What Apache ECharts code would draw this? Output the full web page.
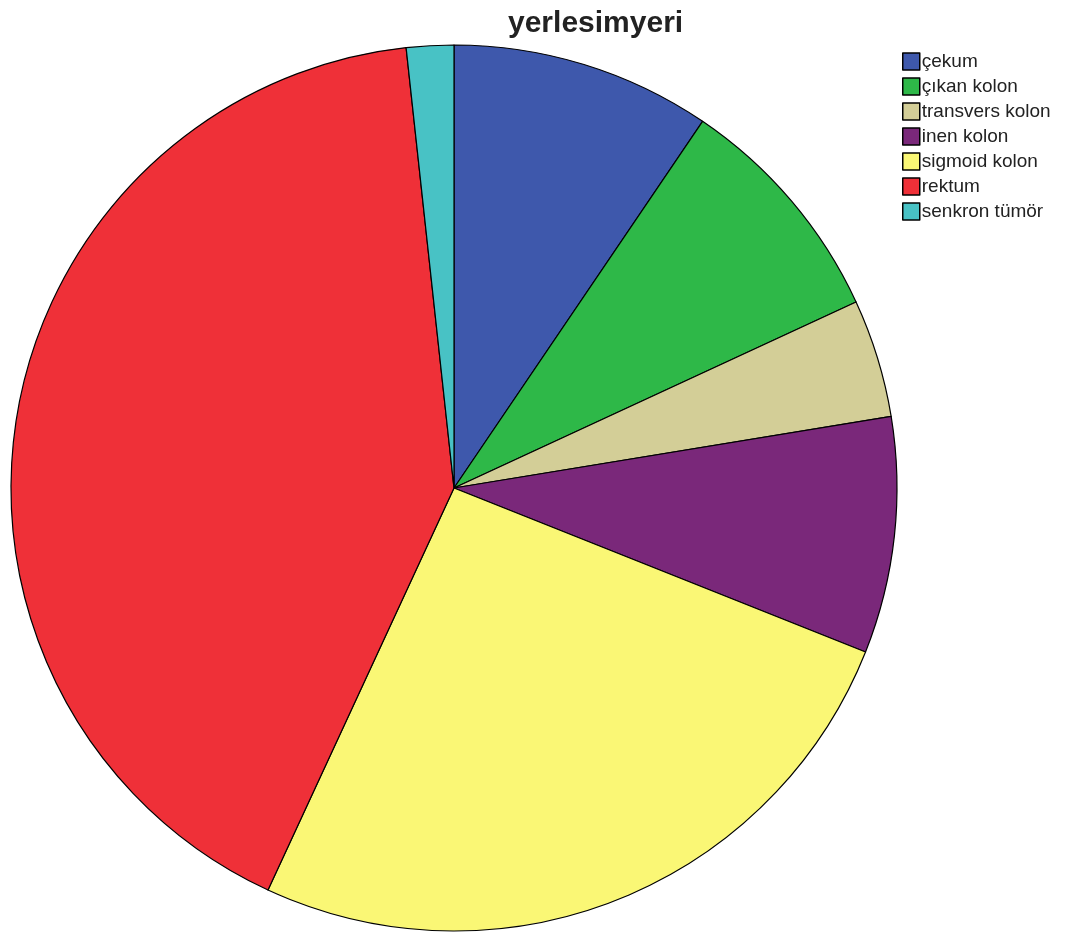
<!DOCTYPE html>
<html>
<head>
<meta charset="utf-8">
<script src="https://cdn.jsdelivr.net/npm/echarts@6/dist/echarts.min.js"></script>
<style>
  html, body { margin: 0; padding: 0; background: #ffffff; }
  #chart { width: 1083px; height: 934px; }
</style>
</head>
<body>
<div id="chart"></div>
<script>
// Tumour location counts
const categories = ['çekum', 'çıkan kolon', 'transvers kolon', 'inen kolon', 'sigmoid kolon', 'rektum', 'senkron tümör'];
const counts = [11, 10, 5, 10, 30, 48, 2];
const colors = ['#3E58AC', '#2EB848', '#D3CE97', '#7A287A', '#FAF775', '#EF3038', '#48C2C5'];

const chart = echarts.init(document.getElementById('chart'), null, { renderer: 'canvas' });

chart.setOption({
  animation: false,
  backgroundColor: '#ffffff',
  title: {
    text: 'yerlesimyeri',
    left: 508,
    top: 9,
    padding: 0,
    textStyle: {
      fontFamily: 'Liberation Sans, Arial, sans-serif',
      fontWeight: 'bold',
      fontSize: 30,
      color: '#222222'
    }
  },
  legend: {
    orient: 'vertical',
    left: 902,
    top: 52,
    padding: 0,
    icon: 'rect',
    itemWidth: 17,
    itemHeight: 17,
    itemGap: 6,
    data: categories,
    textStyle: {
      fontFamily: 'Liberation Sans, Arial, sans-serif',
      fontSize: 19,
      lineHeight: 17,
      color: '#222222',
      padding: [0, 0, 0, -3]
    },
    itemStyle: { borderColor: '#000000', borderWidth: 1.5 }
  },
  series: [{
    type: 'pie',
    center: [454, 488],
    radius: 443,
    startAngle: 90,
    clockwise: true,
    label: { show: false },
    labelLine: { show: false },
    emphasis: { disabled: true },
    itemStyle: { borderColor: '#000000', borderWidth: 1.2 },
    data: categories.map((name, i) => ({
      name: name,
      value: counts[i],
      itemStyle: { color: colors[i] }
    }))
  }]
});
</script>
</body>
</html>
